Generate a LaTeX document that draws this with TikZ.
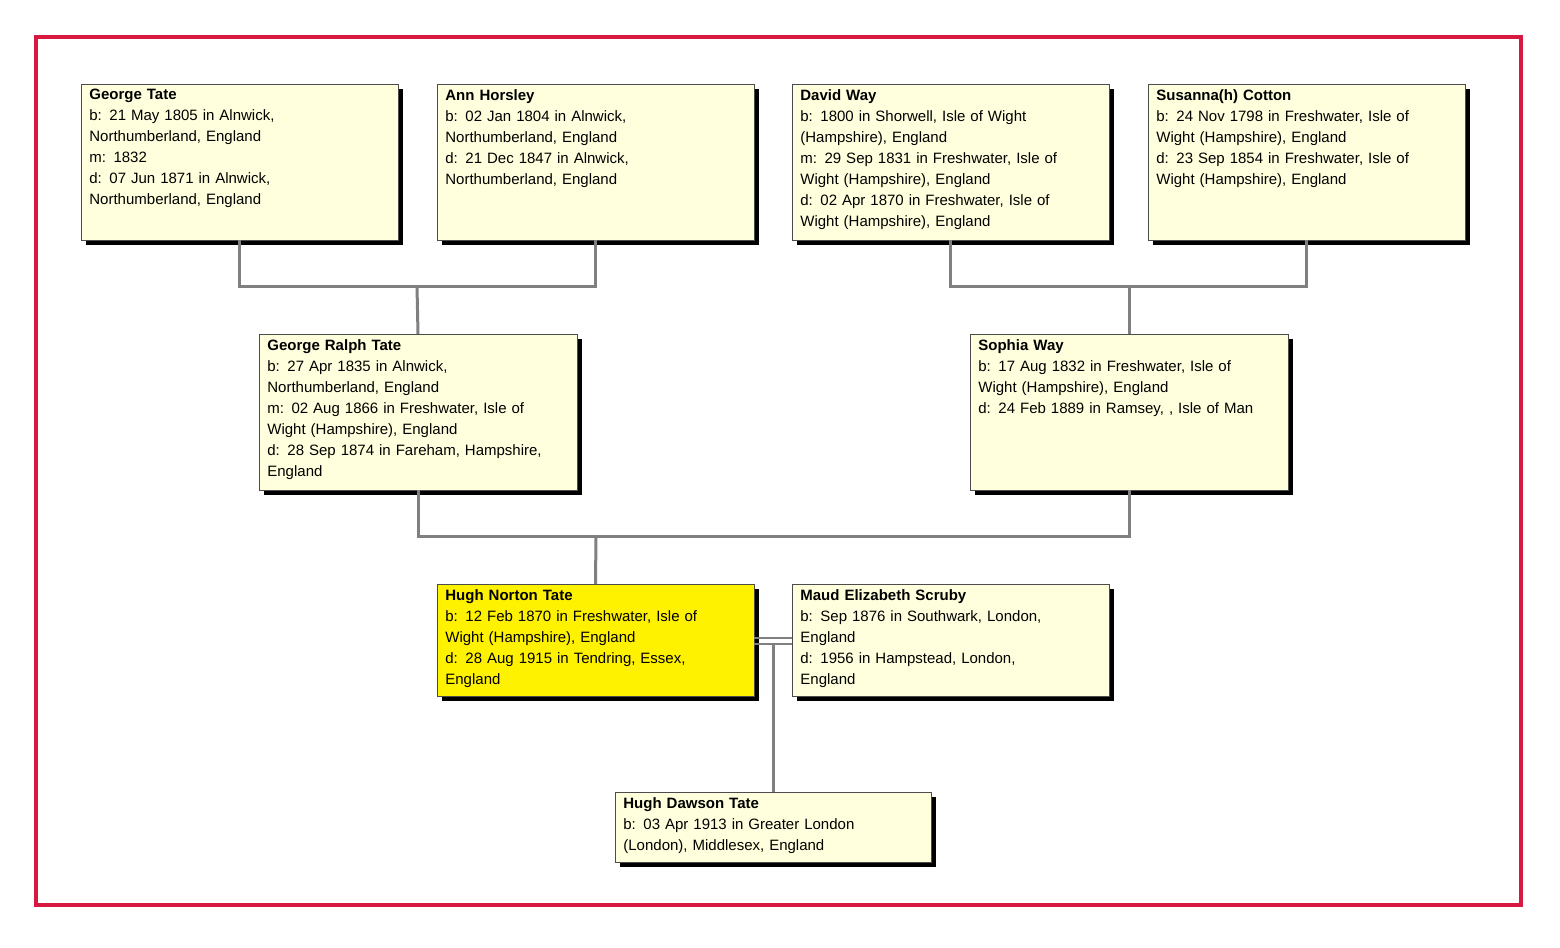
\documentclass[tikz,border=0pt]{standalone}
\usepackage{fontspec}
\setmainfont{Liberation Sans}
\begin{document}
\begin{tikzpicture}[x=0.5pt,y=-0.5pt,
  person/.style={draw=black!70,line width=0.5pt,fill=#1,anchor=north west,
    inner sep=0pt,align=left},
  txt/.style={anchor=north west,inner sep=0pt,align=left,
    font=\fontsize{7.5}{10.5}\selectfont,text width=150pt},
  link/.style={draw=gray,line width=1.5pt}]
\useasboundingbox (0,0) rectangle (1560,948);
\fill[white] (0,0) rectangle (1560,948);
\draw[draw={rgb,255:red,215;green,25;blue,65},line width=2pt] (36,37) rectangle (1521,905);
% box macro: name, left, top, right, bottom, fill, text
\newcommand{\pbox}[7]{%
  \fill[black] (#2+5,#3+5) rectangle (#4+5,#5+5);
  \draw[draw=black!70,line width=0.5pt,fill=#6] (#2,#3) rectangle (#4,#5);
  \path (#2,#3) coordinate (#1-nw) (#4,#5) coordinate (#1-se)
        ({(#2+#4)/2},#3) coordinate (#1-n) ({(#2+#4)/2},#5) coordinate (#1-s)
        (#2,{(#3+#5)/2}) coordinate (#1-w) (#4,{(#3+#5)/2}) coordinate (#1-e);
  \node[txt] (#1) at (#2+8,#3+5) {#7};}
\definecolor{cream}{RGB}{255,255,221}
\pbox{gt}{81}{84}{398}{240}{cream}{\textbf{George Tate}\\b: 21 May 1805 in Alnwick,\\Northumberland, England\\m: 1832\\d: 07 Jun 1871 in Alnwick,\\Northumberland, England}
\pbox{ah}{437}{84}{754}{240}{cream}{\textbf{Ann Horsley}\\b: 02 Jan 1804 in Alnwick,\\Northumberland, England\\d: 21 Dec 1847 in Alnwick,\\Northumberland, England}
\pbox{dw}{792}{84}{1109}{240}{cream}{\textbf{David Way}\\b: 1800 in Shorwell, Isle of Wight\\(Hampshire), England\\m: 29 Sep 1831 in Freshwater, Isle of\\Wight (Hampshire), England\\d: 02 Apr 1870 in Freshwater, Isle of\\Wight (Hampshire), England}
\pbox{sc}{1148}{84}{1465}{240}{cream}{\textbf{Susanna(h) Cotton}\\b: 24 Nov 1798 in Freshwater, Isle of\\Wight (Hampshire), England\\d: 23 Sep 1854 in Freshwater, Isle of\\Wight (Hampshire), England}
\pbox{grt}{259}{334}{577}{490}{cream}{\textbf{George Ralph Tate}\\b: 27 Apr 1835 in Alnwick,\\Northumberland, England\\m: 02 Aug 1866 in Freshwater, Isle of\\Wight (Hampshire), England\\d: 28 Sep 1874 in Fareham, Hampshire,\\England}
\pbox{sw}{970}{334}{1288}{490}{cream}{\textbf{Sophia Way}\\b: 17 Aug 1832 in Freshwater, Isle of\\Wight (Hampshire), England\\d: 24 Feb 1889 in Ramsey, , Isle of Man}
\pbox{hnt}{437}{584}{754}{696}{yellow}{\textbf{Hugh Norton Tate}\\b: 12 Feb 1870 in Freshwater, Isle of\\Wight (Hampshire), England\\d: 28 Aug 1915 in Tendring, Essex,\\England}
\pbox{mes}{792}{584}{1109}{696}{cream}{\textbf{Maud Elizabeth Scruby}\\b: Sep 1876 in Southwark, London,\\England\\d: 1956 in Hampstead, London,\\England}
\pbox{hdt}{615}{792}{931}{862}{cream}{\textbf{Hugh Dawson Tate}\\b: 03 Apr 1913 in Greater London\\(London), Middlesex, England}
% connectors
\coordinate (j1) at (417,286);
\coordinate (j2) at (1129,286);
\coordinate (j3) at (596,536);
\draw[link] (gt-s) |- (j1) -| (ah-s);
\draw[link] (j1) -- (grt-n);
\draw[link] (dw-s) |- (j2) -| (sc-s);
\draw[link] (j2) -- (sw-n);
\draw[link] (grt-s) |- (j3) -| (sw-s);
\draw[link] (j3) -- (hnt-n);
\coordinate (m1a) at (754,638); \coordinate (m1b) at (792,638);
\coordinate (m2a) at (754,644); \coordinate (m2b) at (792,644);
\coordinate (mc) at (773,644);
\draw[link,line width=1pt] (m1a) -- (m1b);
\draw[link,line width=1pt] (m2a) -- (m2b);
\draw[link] (mc) -- (hdt-n-|mc);
\end{tikzpicture}
\end{document}
